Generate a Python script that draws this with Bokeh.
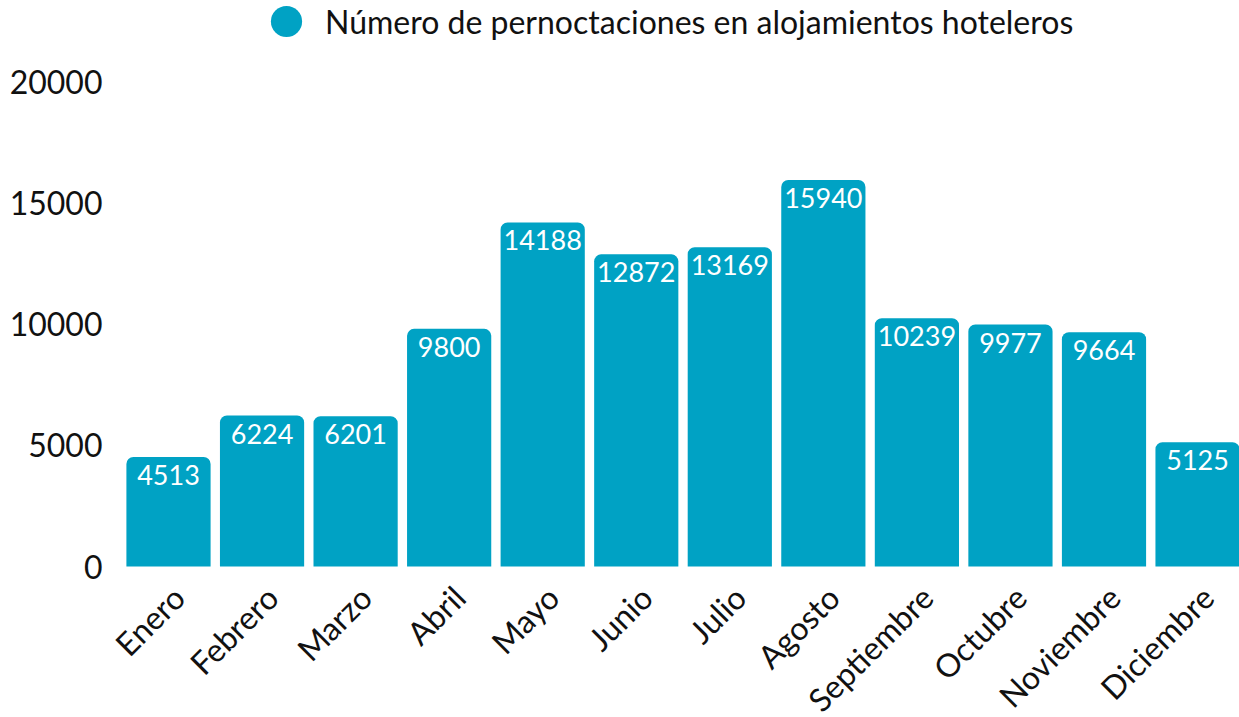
import math
from bokeh.plotting import figure
from bokeh.models import ColumnDataSource, Legend, LegendItem, Range1d, LabelSet
from bokeh.core.properties import value
from bokeh.embed import file_html
from bokeh.resources import INLINE

months = ["Enero", "Febrero", "Marzo", "Abril", "Mayo", "Junio", "Julio",
          "Agosto", "Septiembre", "Octubre", "Noviembre", "Diciembre"]
values = [4513, 6224, 6201, 9800, 14188, 12872, 13169, 15940, 10239, 9977, 9664, 5125]
series_name = "Número de pernoctaciones en alojamientos hoteleros"
y_ticks = [0, 5000, 10000, 15000, 20000]

COLOR = "#00A2C4"
FONT = "Lato"

pos = list(range(len(months)))  # category slot of each month
src = ColumnDataSource(dict(x=pos, month=months, top=values,
                            label=[str(v) for v in values], base=[0] * len(months)))

# frame fills the whole canvas height: 0 sits 151px above the bottom and
# 20000 sits 81px below the top (485px per 20000)
PX = 20000 / 485
STEP = 93.55  # px per category slot
p = figure(x_range=Range1d(-58 / STEP, -58 / STEP + 1129 / STEP),
           y_range=Range1d(-151 * PX, 566 * PX),
           width=1239, height=717, output_backend="svg", toolbar_location=None,
           min_border_left=110, min_border_right=0, min_border_bottom=0, min_border_top=0)

bars = p.vbar(x="x", top="top", width=0.9, source=src, fill_color=COLOR, line_color=None,
              border_radius=(7, 7, 0, 0))

labels = LabelSet(x="x", y="top", text="label", source=src, text_color="white",
                  text_font=value(FONT), text_font_size="27px", text_align="center",
                  text_baseline="top", y_offset=-8)
p.add_layout(labels)

# category labels, rotated 45 degrees below the bars
cat_labels = LabelSet(x="x", y="base", text="month", source=src, text_color="#111111",
                      text_font=value(FONT), text_font_size="32px", text_align="right",
                      text_baseline="middle", angle=math.pi / 4, x_offset=10, y_offset=-25)
p.add_layout(cat_labels)

# renderer used only for the legend swatch (point lies below the visible range)
dot = p.scatter(x=[0], y=[-30000], marker="circle", size=32,
                fill_color=COLOR, line_color=None)
legend = Legend(items=[LegendItem(label=series_name, renderers=[dot])],
                location=(137, 717 - 21 - 39), orientation="horizontal",
                label_text_font=FONT, label_text_font_size="32px", label_text_color="#111111",
                glyph_width=78, glyph_height=78, label_standoff=0,
                border_line_color=None, background_fill_alpha=0, padding=0, margin=0)
p.add_layout(legend, "center")

p.outline_line_color = None
p.xgrid.grid_line_color = None
p.ygrid.grid_line_color = None
p.xaxis.visible = False

p.yaxis.ticker = y_ticks
p.yaxis.axis_line_color = None
p.yaxis.major_tick_line_color = None
p.yaxis.minor_tick_line_color = None
p.yaxis.major_tick_out = 0
p.yaxis.major_tick_in = 0
p.yaxis.major_label_text_font = FONT
p.yaxis.major_label_text_font_size = "32px"
p.yaxis.major_label_text_color = "#111111"
p.yaxis.major_label_standoff = 8

open("out.html", "w").write(file_html(p, INLINE))
